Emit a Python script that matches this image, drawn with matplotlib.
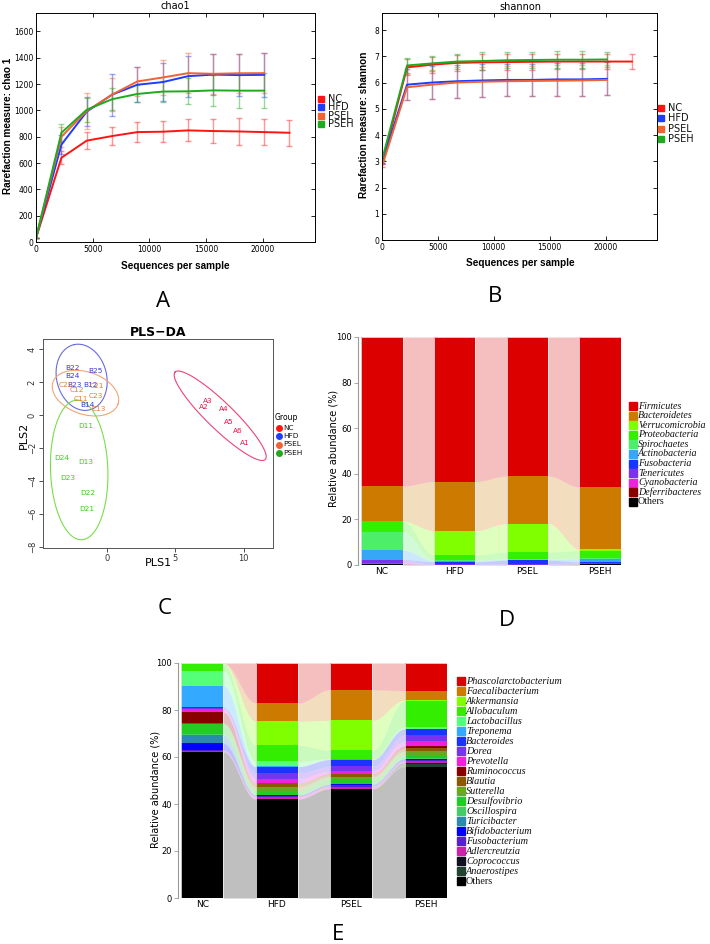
import numpy as np
import matplotlib
matplotlib.use('Agg')
import matplotlib.pyplot as plt
from matplotlib.patches import Rectangle

# ---------------- data ----------------
groups = ['NC', 'HFD', 'PSEL', 'PSEH']
group_colors = ['#ff1414', '#1f3cff', '#f26232', '#1faa1f']

depth = [0, 2240, 4470, 6710, 8940, 11180, 13410, 15650, 17880, 20120, 22350]

chao_mean = [
    [30, 640, 770, 805, 835, 838, 848, 843, 840, 835, 830],
    [30, 740, 990, 1120, 1195, 1215, 1260, 1272, 1268, 1270],
    [30, 800, 995, 1120, 1220, 1250, 1283, 1278, 1282, 1283],
    [30, 830, 1005, 1085, 1125, 1143, 1145, 1152, 1150, 1150],
]
chao_err = [
    [0, 50, 65, 68, 78, 80, 83, 92, 100, 100, 100],
    [0, 70, 110, 160, 132, 145, 155, 158, 158, 165],
    [0, 75, 140, 125, 110, 130, 150, 150, 150, 150],
    [0, 70, 90, 85, 65, 80, 100, 120, 130, 135],
]
shannon_mean = [
    [2.9, 6.58, 6.68, 6.75, 6.77, 6.78, 6.79, 6.80, 6.80, 6.80, 6.80],
    [2.95, 5.92, 6.00, 6.05, 6.08, 6.10, 6.10, 6.12, 6.12, 6.14],
    [2.8, 5.82, 5.92, 6.00, 6.03, 6.05, 6.06, 6.07, 6.08, 6.10],
    [3.05, 6.65, 6.73, 6.80, 6.82, 6.85, 6.86, 6.87, 6.87, 6.88],
]
shannon_err = [
    [0, 0.30, 0.30, 0.30, 0.30, 0.30, 0.30, 0.30, 0.30, 0.30, 0.30],
    [0, 0.60, 0.63, 0.63, 0.63, 0.62, 0.62, 0.63, 0.63, 0.63],
    [0, 0.50, 0.55, 0.58, 0.58, 0.58, 0.58, 0.58, 0.58, 0.58],
    [0, 0.28, 0.30, 0.30, 0.33, 0.30, 0.30, 0.32, 0.32, 0.30],
]

# PLS-DA sample scores
pls_labels = ['A3', 'A2', 'A4', 'A5', 'A6', 'A1',
              'B22', 'B25', 'B24', 'B23', 'B12', 'B14',
              'C22', 'C12', 'C21', 'C23', 'C11', 'C13',
              'D11', 'D24', 'D13', 'D23', 'D22', 'D21']
pls1 = [7.38, 7.10, 8.55, 8.92, 9.56, 10.07,
        -2.52, -0.86, -2.55, -2.38, -1.20, -1.47,
        -3.04, -2.20, -0.74, -0.83, -1.89, -0.59,
        -1.59, -3.36, -1.59, -2.87, -1.45, -1.47]
pls2 = [0.84, 0.46, 0.34, -0.42, -0.98, -1.71,
        2.87, 2.65, 2.37, 1.79, 1.81, 0.58,
        1.81, 1.51, 1.73, 1.13, 0.96, 0.36,
        -0.70, -2.61, -2.85, -3.80, -4.70, -5.67]
pls_group = [0] * 6 + [1] * 6 + [2] * 6 + [3] * 6
pls_text_colors = ['#ee1144', '#3a3acc', '#ee7a2a', '#3acc10']
pls_ell_colors = ['#ee4477', '#6a6add', '#f2a478', '#7ade48']
# confidence ellipses: centre, half-axis vectors u and v
ell_center = [(8.28, -0.05), (-1.87, 2.28), (-1.59, 1.32), (-2.05, -3.33)]
ell_u = [(-3.30, 2.65), (-0.55, 1.98), (2.38, -0.67), (-0.18, 4.23)]
ell_v = [(0.69, 0.57), (1.79, 0.32), (0.51, 1.21), (2.10, 0.06)]

phyla = ['Firmicutes', 'Bacteroidetes', 'Verrucomicrobia', 'Proteobacteria',
         'Spirochaetes', 'Actinobacteria', 'Fusobacteria', 'Tenericutes',
         'Cyanobacteria', 'Deferribacteres', 'Others']
phyla_colors = ['#dd0000', '#cc7a00', '#80ff00', '#33f000', '#4cee6a', '#36a6f6',
                '#1a33ff', '#7733ee', '#ee22dd', '#880000', '#000000']
phyla_abund = [
    [65.4, 15.3, 0.2, 4.5, 8.1, 4.1, 0.2, 1.5, 0.1, 0.1, 0.5],
    [63.4, 21.6, 10.6, 2.2, 0.3, 0.5, 1.0, 0.3, 0.0, 0.0, 0.1],
    [61.0, 20.8, 12.5, 3.0, 0.3, 0.3, 1.6, 0.3, 0.0, 0.0, 0.2],
    [65.8, 27.2, 0.7, 3.4, 0.3, 1.2, 0.5, 0.3, 0.1, 0.1, 0.4],
]

genera = ['Phascolarctobacterium', 'Faecalibacterium', 'Akkermansia', 'Allobaculum',
          'Lactobacillus', 'Treponema', 'Bacteroides', 'Dorea', 'Prevotella',
          'Ruminococcus', 'Blautia', 'Sutterella', 'Desulfovibrio', 'Oscillospira',
          'Turicibacter', 'Bifidobacterium', 'Fusobacterium', 'Adlercreutzia',
          'Coprococcus', 'Anaerostipes', 'Others']
genera_colors = ['#dd0000', '#cc7a00', '#80ff00', '#33ee00', '#55ff77', '#33aaff',
                 '#1a33ff', '#7733ee', '#ee22dd', '#880000', '#8b5a00', '#66aa22',
                 '#22cc22', '#44cc66', '#2a8ab0', '#0000ff', '#5522cc', '#cc22aa',
                 '#111122', '#224433', '#000000']
genera_abund = [
    [0.1, 0.1, 0.1, 3.0, 6.4, 9.2, 0.3, 0.3, 1.5, 4.6, 0.2, 0.2, 4.4, 0.3, 3.5,
     2.9, 0.2, 0.5, 0.1, 0.1, 62.0],
    [17.0, 7.8, 10.2, 6.9, 2.1, 0.1, 2.8, 2.3, 1.9, 0.1, 1.6, 1.8, 1.4, 0.1, 0.1,
     0.3, 0.4, 1.0, 0.0, 0.0, 42.1],
    [11.4, 13.0, 12.8, 3.6, 0.2, 0.1, 2.9, 2.1, 1.0, 0.3, 1.0, 1.0, 2.0, 0.1, 0.1,
     0.2, 0.8, 0.9, 0.0, 0.0, 46.5],
    [11.8, 4.0, 0.5, 11.0, 0.6, 0.2, 2.6, 2.6, 2.1, 0.9, 1.3, 1.6, 1.3, 0.2, 0.1,
     0.5, 0.6, 0.5, 0.6, 1.2, 55.8],
]

# ---------------- layout helpers ----------------
W, H = 710, 944
fig = plt.figure(figsize=(W / 100, H / 100), dpi=100)


def box(x0, y0, x1, y1):
    return [x0 / W, 1 - y1 / H, (x1 - x0) / W, (y1 - y0) / H]


def ftext(x, y, s, **kw):
    fig.text(x / W, 1 - y / H, s, **kw)


def fig_legend(names, colors, x, y0, dy, size, marker='s', msize=5, italic=False,
               serif=False, gap=7):
    for i, (n, c) in enumerate(zip(names, colors)):
        y = y0 + i * dy
        fig.lines.append(plt.Line2D([x / W], [1 - y / H], marker=marker, color=c,
                                    markersize=msize, linestyle='none',
                                    transform=fig.transFigure, figure=fig))
        style = 'italic' if italic and n != 'Others' else 'normal'
        fam = 'Liberation Serif' if serif else 'DejaVu Sans'
        ftext(x + gap, y, n, fontsize=size, va='center', ha='left',
              style=style, family=fam, color='#111111')


# ---------------- A / B rarefaction ----------------
def rarefaction(rect, means, errs, ylim, yticks):
    ax = fig.add_axes(box(*rect))
    for g in range(4):
        x = depth[:len(means[g])]
        ax.errorbar(x, means[g], yerr=errs[g], fmt='none', ecolor=group_colors[g],
                    alpha=0.45, elinewidth=1, capsize=2.5, capthick=1)
    for g in range(4):
        x = depth[:len(means[g])]
        ax.plot(x, means[g], color=group_colors[g], lw=1.4)
    ax.set_xlim(0, 24600)
    ax.set_ylim(*ylim)
    ax.set_xticks([0, 5000, 10000, 15000, 20000])
    ax.set_yticks(yticks)
    ax.tick_params(direction='in', top=True, right=True, labelsize=5.5, length=3,
                   width=0.6, pad=2)
    for s in ax.spines.values():
        s.set_linewidth(0.7)
    return ax


axA = rarefaction((36, 13, 315, 242), chao_mean, chao_err, (0, 1740),
                  range(0, 1601, 200))
ftext(175, 6, 'chao1', ha='center', va='center', fontsize=7)
ftext(8, 126, 'Rarefaction measure: chao 1', rotation=90, ha='center', va='center',
      fontsize=7.2, fontweight='bold', family='Liberation Sans')
ftext(175, 266, 'Sequences per sample', ha='center', va='center', fontsize=7.2,
      fontweight='bold', family='Liberation Sans')
fig_legend(groups, group_colors, 321, 99, 8.4, 7, msize=4.5)

axB = rarefaction((382, 13, 657, 240), shannon_mean, shannon_err, (0, 8.65),
                  range(0, 9))
ftext(520, 7, 'shannon', ha='center', va='center', fontsize=7)
ftext(364, 125, 'Rarefaction measure: shannon', rotation=90, ha='center',
      va='center', fontsize=7.2, fontweight='bold', family='Liberation Sans')
ftext(520, 263, 'Sequences per sample', ha='center', va='center', fontsize=7.2,
      fontweight='bold', family='Liberation Sans')
fig_legend(groups, group_colors, 661, 108, 10.4, 7, msize=4.5)

# ---------------- C PLS-DA ----------------
axC = fig.add_axes(box(43, 339, 273, 548))
t = np.linspace(0, 2 * np.pi, 200)
for g in range(4):
    cx, cy = ell_center[g]
    ux, uy = ell_u[g]
    vx, vy = ell_v[g]
    axC.plot(cx + ux * np.cos(t) + vx * np.sin(t), cy + uy * np.cos(t) + vy * np.sin(t),
             color=pls_ell_colors[g], lw=0.8)
for lab, x, y, g in zip(pls_labels, pls1, pls2, pls_group):
    axC.text(x, y, lab, color=pls_text_colors[g], fontsize=5.3, ha='center',
             va='center')
axC.set_xlim(-4.7, 12.15)
axC.set_ylim(-8.06, 4.6)
axC.set_xticks([0, 5, 10])
axC.set_yticks([-8, -6, -4, -2, 0, 2, 4])
axC.tick_params(labelsize=6, length=3, width=0.6, pad=1.5, colors='#333333')
for lab in axC.get_yticklabels():
    lab.set_rotation(90)
    lab.set_va('center')
for s in axC.spines.values():
    s.set_linewidth(0.7)
    s.set_color('#555555')
ftext(158, 333, 'PLS\u2212DA', ha='center', va='center', fontsize=9, fontweight='bold')
ftext(158, 563, 'PLS1', ha='center', va='center', fontsize=8)
ftext(24, 435, 'PLS2', ha='center', va='center', fontsize=8, rotation=90)
ftext(275, 417, 'Group', ha='left', va='center', fontsize=5.5)
fig_legend(groups, group_colors, 278.5, 427.5, 8.5, 5.3, marker='o', msize=4, gap=4.5)


# ---------------- D / E alluvial stacked bars ----------------
def alluvial(rect, abund, colors, ylabel_xy):
    ax = fig.add_axes(box(*rect))
    data = np.array(abund).T[::-1]          # bottom layer first
    cols = colors[::-1]
    tops = np.cumsum(data, axis=0)
    bots = tops - data
    n = data.shape[1]
    w = 0.57
    s = np.linspace(0, 1, 60)
    ease = (1 - np.cos(np.pi * s)) / 2
    for j in range(n - 1):
        xs = (j + w / 2) + (1 - w) * s
        for k in range(data.shape[0]):
            lo = bots[k, j] + (bots[k, j + 1] - bots[k, j]) * ease
            hi = tops[k, j] + (tops[k, j + 1] - tops[k, j]) * ease
            ax.fill_between(xs, lo, hi, color=cols[k], alpha=0.25, lw=0)
    for j in range(n):
        ax.bar(j, data[:, j], bottom=bots[:, j], width=w, color=cols, lw=0)
        ax.add_patch(Rectangle((j - w / 2, 0), w, 100, fill=False,
                               edgecolor='#e4e4e4', lw=0.6))
    ax.set_xlim(-w / 2, n - 1 + w / 2)
    ax.set_ylim(0, 100)
    for side in ('top', 'right', 'bottom'):
        ax.spines[side].set_visible(False)
    ax.spines['left'].set_position(('outward', 2.5))
    ax.spines['left'].set_color('#999999')
    ax.spines['left'].set_linewidth(0.8)
    ax.set_yticks([0, 20, 40, 60, 80, 100])
    ax.tick_params(axis='y', labelsize=6, length=3, width=0.6, color='#999999', pad=1)
    ax.set_xticks(range(n))
    ax.set_xticklabels(groups)
    ax.tick_params(axis='x', length=0, labelsize=6.5, pad=1.5)
    ftext(ylabel_xy[0], ylabel_xy[1], 'Relative abundance (%)', rotation=90,
          ha='center', va='center', fontsize=7)
    return ax


axD = alluvial((361, 337, 621, 565), phyla_abund, phyla_colors, (333, 448))
fig_legend(phyla, phyla_colors, 633, 406, 9.6, 7.2, msize=5.5, italic=True,
           serif=True, gap=5)

axE = alluvial((181, 663, 447, 898), genera_abund, genera_colors, (155, 789))
fig_legend(genera, genera_colors, 461, 681, 10.0, 7.4, msize=5.5, italic=True,
           serif=True, gap=5)

# ---------------- panel letters ----------------
for lab, (x, y) in zip('ABCDE', [(163, 302), (495, 296), (165, 608), (507, 620),
                                (338, 934)]):
    ftext(x, y, lab, ha='center', va='center', fontsize=16, family='Open Sans')

fig.savefig('out.png', dpi=100)
